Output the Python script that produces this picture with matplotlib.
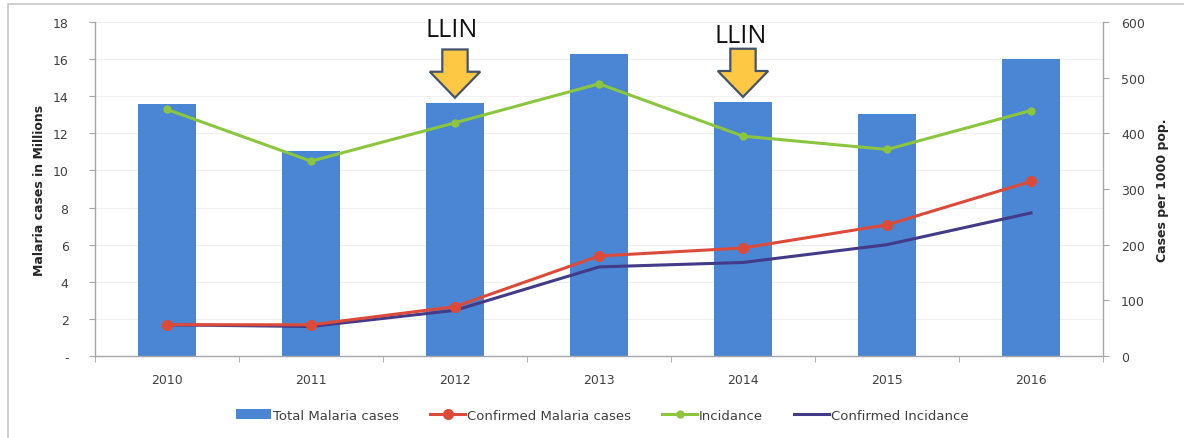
import matplotlib
matplotlib.use("Agg")
import matplotlib.pyplot as plt
from matplotlib.patches import Polygon, Patch, Rectangle
from matplotlib.lines import Line2D
import numpy as np

# Malaria data 2010-2016
years = ["2010", "2011", "2012", "2013", "2014", "2015", "2016"]
total_cases = [13.56, 11.06, 13.65, 16.29, 13.69, 13.05, 16.02]      # millions
confirmed_cases = [1.69, 1.68, 2.66, 5.39, 5.82, 7.07, 9.41]         # millions
incidence = [443, 350, 419, 489, 395, 371, 441]                      # per 1000 pop.
confirmed_incidence = [56, 53, 82, 160, 168, 200, 257]               # per 1000 pop.
llin_years = ["2012", "2014"]

BAR = "#4a86d3"
RED = "#dc4b39"
GREEN = "#8cc63f"
PURPLE = "#433a88"
AXIS = "#a6a6a6"
TXT = "#404040"

fig = plt.figure(figsize=(11.84, 4.39), dpi=100)
ax = fig.add_axes([0.0802, 0.1868, 0.8514, 0.7608])
ax2 = ax.twinx()

x = np.arange(len(years))
ax.bar(x, total_cases, width=0.4, color=BAR, zorder=2)

ax.set_xlim(-0.5, len(years) - 0.5)
ax.set_ylim(0, 18)
ax2.set_ylim(0, 600)

# lines all live on the right axes so they sit above the bars
ax2.plot(x, confirmed_cases, color=RED, lw=2.2, marker="o", ms=7,
         transform=ax.transData, zorder=3)
ax2.plot(x, incidence, color=GREEN, lw=2.2, marker="o", ms=5, zorder=3)
ax2.plot(x, confirmed_incidence, color=PURPLE, lw=2.2, zorder=2)

# faint horizontal grid
for v in range(2, 19, 2):
    ax.axhline(v, color="#f0f0f0", lw=0.8, zorder=0)

# axes styling
for a in (ax, ax2):
    for s in a.spines.values():
        s.set_visible(False)
ax.spines["left"].set_visible(True)
ax.spines["bottom"].set_visible(True)
ax2.spines["right"].set_visible(True)
for s in (ax.spines["left"], ax.spines["bottom"], ax2.spines["right"]):
    s.set_color(AXIS)
    s.set_linewidth(1.0)

ax.set_yticks(range(0, 19, 2))
ax.set_yticklabels(["-"] + [str(v) for v in range(2, 19, 2)])
ax.tick_params(axis="y", direction="out", length=4, color=AXIS, pad=15,
               labelsize=9, labelcolor=TXT)
ax2.set_yticks(range(0, 601, 100))
ax2.tick_params(axis="y", direction="out", length=4, color=AXIS, pad=9,
                labelsize=9, labelcolor=TXT)

ax.set_xticks(x)
ax.set_xticklabels(years)
ax.set_xticks(np.arange(-0.5, len(years), 1.0), minor=True)
ax.tick_params(axis="x", which="major", length=0, pad=12, labelsize=9,
               labelcolor=TXT)
ax.tick_params(axis="x", which="minor", direction="out", length=4, color=AXIS)

ax.set_ylabel("Malaria cases in Millions", fontsize=9, fontweight="bold",
              color="#262626", labelpad=5)
ax2.set_ylabel("Cases per 1000 pop.", fontsize=9, fontweight="bold",
               color="#262626", labelpad=8)

# LLIN distribution arrows above the bars
for yr, text_y, dx in zip(llin_years, (17.26, 16.93), (-0.02, -0.015)):
    i = years.index(yr)
    tip = total_cases[i] + 0.27
    top = tip + 2.6
    head = tip + 1.4
    hw, sw = 0.175, 0.088
    pts = [(i, tip), (i - hw, head), (i - sw, head), (i - sw, top),
           (i + sw, top), (i + sw, head), (i + hw, head)]
    ax2.add_patch(Polygon(pts, closed=True, facecolor="#fdc843",
                          edgecolor="#44546a", lw=1.6, zorder=5,
                          transform=ax.transData))
    ax2.text(i + dx, text_y, "LLIN", fontsize=18, ha="center",
             va="baseline", color="#111111", transform=ax.transData,
             family="Open Sans")

handles = [
    Patch(facecolor=BAR),
    Line2D([], [], color=RED, lw=2.2, marker="o", ms=7),
    Line2D([], [], color=GREEN, lw=2.2, marker="o", ms=5),
    Line2D([], [], color=PURPLE, lw=2.2),
]
labels = ["Total Malaria cases", "Confirmed Malaria cases", "Incidance",
          "Confirmed Incidance"]
fig.legend(handles, labels, loc="center", bbox_to_anchor=(0.509, 0.052),
           ncol=4, frameon=False, fontsize=9.5, handlelength=2.65,
           columnspacing=2.35, handletextpad=0.15, labelcolor=TXT)

# outer chart frame
fig.add_artist(Rectangle((8 / 1184, -0.1), 1.2, 1 - 5 / 439 + 0.1,
                         transform=fig.transFigure, fill=False,
                         edgecolor="#c8c8c8", lw=1.2))

fig.savefig("out.png", dpi=100)
